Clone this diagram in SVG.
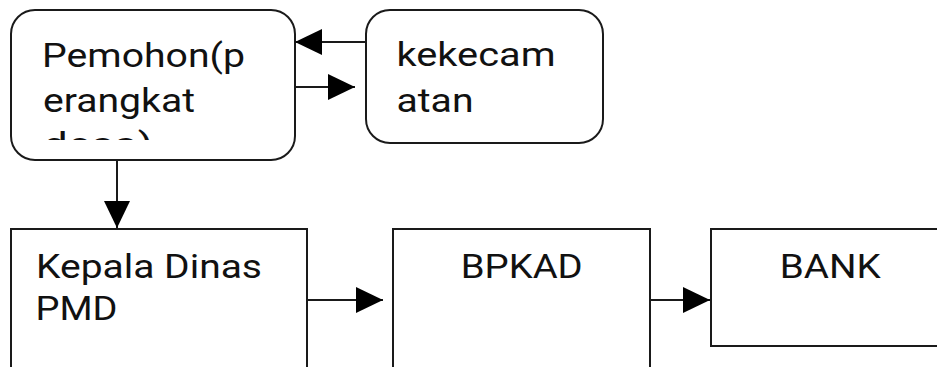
<svg xmlns="http://www.w3.org/2000/svg" width="937" height="367" viewBox="0 0 937 367">
<style>
.box{fill:#fff;stroke:#1a1a1a;stroke-width:2}
.t{font-family:Roboto,"Liberation Sans",sans-serif;font-size:34px;fill:#111}
.c{fill:none;stroke:#1a1a1a;stroke-width:2}
</style>
<defs>
<marker id="ah" markerWidth="27" markerHeight="26" refX="27" refY="13" orient="auto" markerUnits="userSpaceOnUse">
<path d="M0,0 L27,13 L0,26 Z" fill="#000"/>
</marker>
<clipPath id="clip1"><rect x="11" y="10" width="284" height="130"/></clipPath>
</defs>
<rect width="937" height="367" fill="#fff"/>
<g id="pemohon">
<rect class="box" x="11" y="10" width="284" height="150" rx="24"/>
<g clip-path="url(#clip1)">
<text class="t" x="42" y="67" textLength="203" lengthAdjust="spacingAndGlyphs">Pemohon(p</text>
<text class="t" x="43" y="111.5" textLength="152" lengthAdjust="spacingAndGlyphs">erangkat</text>
<text class="t" x="43" y="156" textLength="110" lengthAdjust="spacingAndGlyphs">desa)</text>
</g>
</g>
<g id="kecamatan">
<rect class="box" x="366" y="10" width="237" height="133" rx="24"/>
<text class="t" x="396.5" y="66" textLength="159" lengthAdjust="spacingAndGlyphs">kekecam</text>
<text class="t" x="396.5" y="111.5" textLength="77" lengthAdjust="spacingAndGlyphs">atan</text>
</g>
<g id="kepala">
<rect class="box" x="11" y="229" width="296" height="140"/>
<text class="t" x="36" y="277.5" textLength="226" lengthAdjust="spacingAndGlyphs">Kepala Dinas</text>
<text class="t" x="35.5" y="320" textLength="82" lengthAdjust="spacingAndGlyphs">PMD</text>
</g>
<g id="bpkad">
<rect class="box" x="393" y="229" width="257" height="140"/>
<text class="t" x="521.7" y="277.5" text-anchor="middle" textLength="122" lengthAdjust="spacingAndGlyphs">BPKAD</text>
</g>
<g id="bank">
<rect class="box" x="711" y="229" width="238" height="117"/>
<text class="t" x="830.3" y="278" text-anchor="middle" textLength="101" lengthAdjust="spacingAndGlyphs">BANK</text>
</g>
<g id="connectors">
<line class="c" x1="366" y1="42" x2="295" y2="42" marker-end="url(#ah)"/>
<line class="c" x1="295" y1="87" x2="355" y2="87" marker-end="url(#ah)"/>
<line class="c" x1="117" y1="160" x2="117" y2="228" marker-end="url(#ah)"/>
<line class="c" x1="307" y1="300" x2="383" y2="300" marker-end="url(#ah)"/>
<line class="c" x1="650" y1="300" x2="710" y2="300" marker-end="url(#ah)"/>
</g>
</svg>
